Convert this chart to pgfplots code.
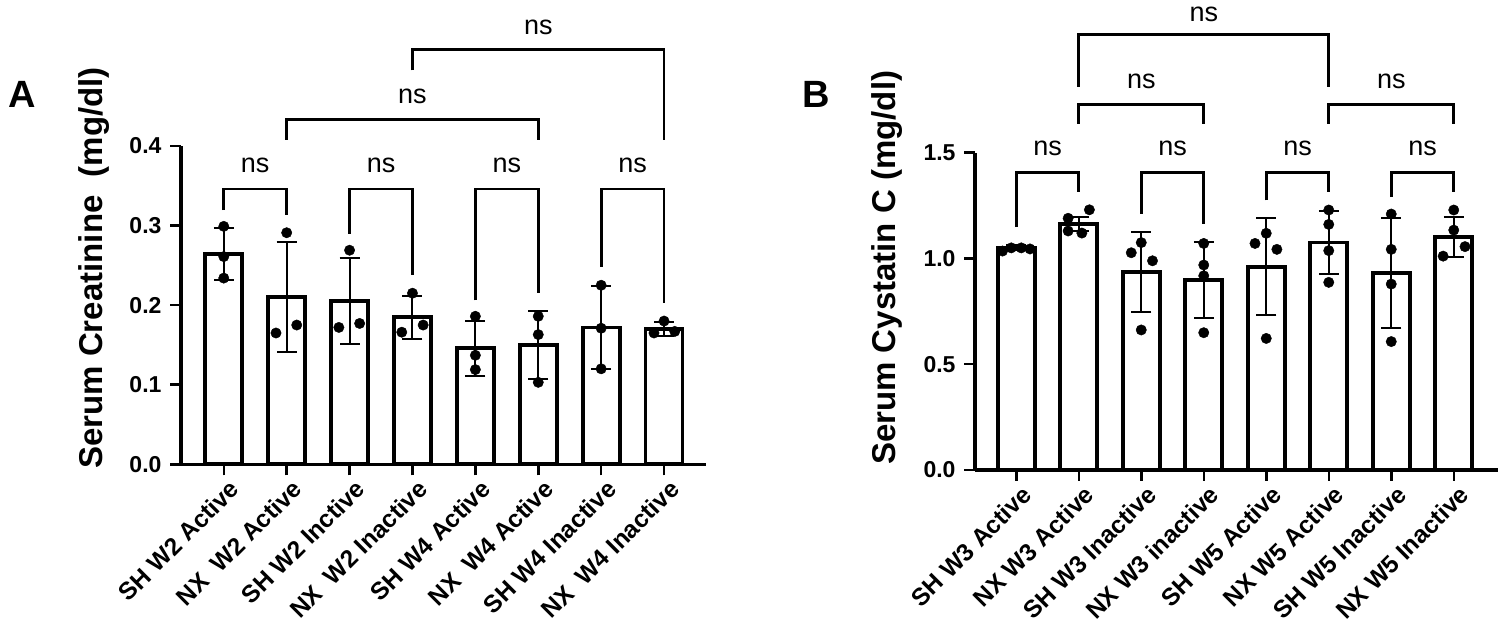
\documentclass[border=0pt]{standalone}
\usepackage{fontspec}
\setmainfont{Liberation Sans}
\usepackage{pgfplots}
\usepackage{pgfplotstable}
\pgfplotsset{compat=1.18}

\pgfplotstableread{
x m e
0 0.264 0.0325
1 0.210 0.0695
2 0.205 0.054
3 0.185 0.027
4 0.146 0.0346
5 0.150 0.043
6 0.172 0.052
7 0.170 0.009
}\barsA

\pgfplotstableread{
x y
0 0.299
0 0.261
0 0.234
1 0.291
0.83 0.165
1.16 0.175
2 0.269
1.83 0.172
2.16 0.177
3 0.215
2.83 0.166
3.17 0.175
4 0.186
4 0.137
4 0.119
5 0.186
5 0.163
5 0.103
6 0.225
6 0.171
6 0.120
7 0.180
6.84 0.165
7.17 0.167
}\dotsA

\pgfplotstableread{
x m e
0 1.052 0.012
1 1.163 0.035
2 0.937 0.19
3 0.898 0.18
4 0.961 0.23
5 1.075 0.15
6 0.930 0.26
7 1.100 0.095
}\barsB

\pgfplotstableread{
x y
-0.22 1.035
-0.08 1.05
0.08 1.05
0.22 1.045
1.17 1.23
0.83 1.19
0.83 1.13
1.05 1.12
2 1.075
1.84 1.027
2.18 0.989
2 0.662
3 1.071
3 0.969
3 0.918
3 0.649
4 1.119
3.82 1.071
4.17 1.043
4 0.622
5 1.229
5 1.161
5 1.037
5 0.887
6 1.21
6 1.043
6 0.879
6 0.607
7 1.229
7 1.134
7.18 1.056
6.83 1.011
}\dotsB

\pgfplotsset{
  gp/.style={
    scale only axis,
    clip=false,
    axis x line=bottom,
    axis y line=left,
    axis line style={line width=3.2pt,-},
    tick style={line width=2.5pt,black},
    tick align=outside,
    major tick length=11pt,
    xtick={0,...,7},
    /pgf/number format/assume math mode=true,
    tick label style={font=\fontsize{23}{27}\selectfont\bfseries},
    yticklabel style={/pgf/number format/fixed,/pgf/number format/fixed zerofill,/pgf/number format/precision=1,xshift=-5pt},
    xticklabel style={font=\fontsize{24.5}{29}\selectfont\bfseries,rotate=45,anchor=north east,inner sep=2pt,yshift=-3pt,xshift=3pt},
    ylabel style={font=\fontsize{33}{38}\selectfont\bfseries,anchor=center},
  },
  barplot/.style={ybar, bar width=37pt, draw=black, fill=white, line width=3.8pt,
    error bars/.cd, y dir=both, y explicit,
    error bar style={line width=2pt},
    error mark options={rotate=90, mark size=10pt, line width=2pt}},
  dotplot/.style={only marks, mark=*, mark size=5.2pt, black},
}
\tikzset{
  br/.style={line width=2.8pt},
  ns/.style={font=\fontsize{27}{32}\selectfont, anchor=center},
}

\begin{document}
\begin{tikzpicture}[x=1pt,y=1pt]
\useasboundingbox (0,0) rectangle (1500,628);

\node[font=\fontsize{38}{42}\selectfont\bfseries] at (22,534) {A};
\node[font=\fontsize{38}{42}\selectfont\bfseries] at (816,534) {B};

\begin{axis}[gp,
  at={(181pt,163.7pt)}, anchor=south west,
  width=525.2pt, height=318.3pt,
  xmin=-0.68, xmax=7.67, ymin=0, ymax=0.4,
  ytick={0,0.1,0.2,0.3,0.4},
  xticklabels={SH W2 Active, NX\ \ W2 Active, SH W2 Inctive, NX\ \ W2 Inactive, SH W4 Active, NX\ \ W4 Active, SH W4 Inactive, NX\ \ W4 Inactive},
  ylabel={Serum Creatinine\ \ (mg/dl)},
  ylabel style={at={(axis description cs:-0.165,0.617)}},
]
\addplot[barplot] table[x=x,y=m,y error=e] {\barsA};
\addplot[dotplot] table[x=x,y=y] {\dotsA};
% brackets
\draw[br] (axis cs:0,0.3195) |- (axis cs:1,0.346) -- (axis cs:1,0.313);
\draw[br] (axis cs:2,0.290) |- (axis cs:3,0.346) -- (axis cs:3,0.238);
\draw[br] (axis cs:4,0.206) |- (axis cs:5,0.346) -- (axis cs:5,0.215);
\draw[br] (axis cs:6,0.248) |- (axis cs:7,0.346) -- (axis cs:7,0.2025);
\draw[br] (axis cs:1,0.408) |- (axis cs:5,0.433) -- (axis cs:5,0.408);
\draw[br] (axis cs:3,0.495) |- (axis cs:7,0.521) -- (axis cs:7,0.408);
\node[ns] at (axis cs:0.5,0.376) {ns};
\node[ns] at (axis cs:2.5,0.376) {ns};
\node[ns] at (axis cs:4.5,0.376) {ns};
\node[ns] at (axis cs:6.5,0.376) {ns};
\node[ns] at (axis cs:3,0.462) {ns};
\node[ns] at (axis cs:5,0.549) {ns};
\end{axis}

\begin{axis}[gp,
  at={(975pt,158pt)}, anchor=south west,
  width=522.5pt, height=317.3pt,
  xmin=-0.66, xmax=7.7, ymin=0, ymax=1.5,
  ytick={0,0.5,1.0,1.5},
  xticklabels={SH W3 Active, NX W3 Active, SH W3 Inactive, NX W3 inactive, SH W5 Active, NX W5 Active, SH W5 Inactive, NX W5 Inactive},
  ylabel={Serum Cystatin C (mg/dl)},
  ylabel style={at={(axis description cs:-0.168,0.637)}},
]
\addplot[barplot] table[x=x,y=m,y error=e] {\barsB};
\addplot[dotplot] table[x=x,y=y] {\dotsB};
\draw[br] (axis cs:0,1.148) |- (axis cs:1,1.407) -- (axis cs:1,1.313);
\draw[br] (axis cs:2,1.212) |- (axis cs:3,1.407) -- (axis cs:3,1.165);
\draw[br] (axis cs:4,1.274) |- (axis cs:5,1.407) -- (axis cs:5,1.313);
\draw[br] (axis cs:6,1.290) |- (axis cs:7,1.407) -- (axis cs:7,1.313);
\draw[br] (axis cs:1,1.637) |- (axis cs:3,1.726) -- (axis cs:3,1.637);
\draw[br] (axis cs:5,1.637) |- (axis cs:7,1.726) -- (axis cs:7,1.637);
\draw[br] (axis cs:1,1.811) |- (axis cs:5,2.057) -- (axis cs:5,1.811);
\node[ns] at (axis cs:0.5,1.52) {ns};
\node[ns] at (axis cs:2.5,1.52) {ns};
\node[ns] at (axis cs:4.5,1.52) {ns};
\node[ns] at (axis cs:6.5,1.52) {ns};
\node[ns] at (axis cs:2,1.835) {ns};
\node[ns] at (axis cs:6,1.835) {ns};
\node[ns] at (axis cs:3,2.156) {ns};
\end{axis}
\end{tikzpicture}
\end{document}
